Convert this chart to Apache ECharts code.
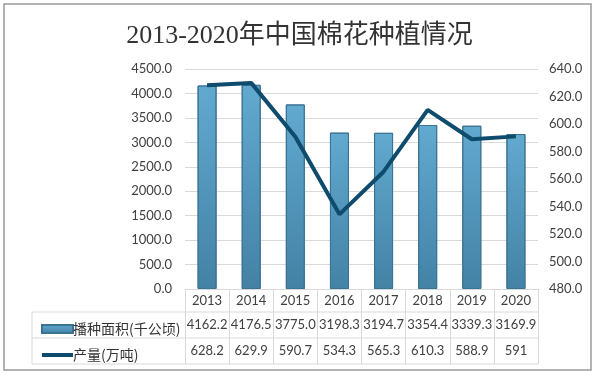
<!DOCTYPE html>
<html>
<head>
<meta charset="utf-8">
<script src="https://cdn.jsdelivr.net/npm/echarts@6/dist/echarts.min.js"></script>
<style>
  html, body { margin: 0; padding: 0; background: #fff; }
  #graph { width: 599px; height: 376px; }
</style>
</head>
<body>
<div id="graph"></div>
<script>
var years = ['2013', '2014', '2015', '2016', '2017', '2018', '2019', '2020'];
var area = [4162.2, 4176.5, 3775.0, 3198.3, 3194.7, 3354.4, 3339.3, 3169.9];
var output = [628.2, 629.9, 590.7, 534.3, 565.3, 610.3, 588.9, 591];
var areaName = '播种面积(千公顷)';
var outputName = '产量(万吨)';

var numFont = 'Lato, "Noto Sans CJK SC", sans-serif';
var gridColor = '#d9d9d9';

var option = {
    title: {
        text: '2013-2020年中国棉花种植情况',
        left: 'center',
        top: 18,
        textStyle: {
            fontFamily: '"Liberation Serif", "Noto Sans CJK SC", serif',
            fontSize: 26,
            fontWeight: 'normal',
            color: '#333'
        }
    },
    legend: {
        orient: 'vertical',
        left: 36,
        top: 317,
        itemWidth: 31,
        itemHeight: 8,
        itemGap: 12,
        data: [
            {name: areaName, icon: 'rect'},
            {name: outputName, icon: 'path://M0,0L31,0L31,4L0,4Z'}
        ],
        textStyle: {
            fontFamily: '"Noto Sans CJK SC", sans-serif',
            fontSize: 14,
            color: '#333',
            padding: [0, 0, 0, -5]
        }
    },
    grid: {left: 185, right: 61, top: 69, bottom: 87},
    xAxis: {
        type: 'category',
        data: years,
        axisLine: {lineStyle: {color: gridColor}},
        axisTick: {show: true, length: 75, lineStyle: {color: gridColor}},
        axisLabel: {
            margin: 0,
            interval: 0,
            formatter: function(v, i) {
                return '{a|' + v + '}\n{b|' + area[i].toFixed(1) + '}\n{c|' + output[i] + '}';
            },
            rich: {
                a: {lineHeight: 23, fontSize: 13, fontFamily: numFont, color: '#404040'},
                b: {lineHeight: 26, fontSize: 13, fontFamily: numFont, color: '#404040'},
                c: {lineHeight: 26, fontSize: 13, fontFamily: numFont, color: '#404040'}
            }
        }
    },
    yAxis: [{
        type: 'value',
        min: 0,
        max: 4500,
        interval: 500,
        axisLine: {show: false},
        axisTick: {show: false},
        axisLabel: {
            margin: 13,
            fontFamily: numFont,
            fontSize: 13,
            color: '#404040',
            formatter: function(v) { return v.toFixed(1); }
        },
        splitLine: {lineStyle: {color: gridColor}}
    }, {
        type: 'value',
        min: 480,
        max: 640,
        interval: 20,
        axisLine: {show: false},
        axisTick: {show: false},
        axisLabel: {
            margin: 11,
            fontFamily: numFont,
            fontSize: 13,
            color: '#404040',
            formatter: function(v) { return v.toFixed(1); }
        },
        splitLine: {show: false}
    }],
    series: [{
        name: areaName,
        type: 'bar',
        data: area,
        barWidth: 19,
        itemStyle: {
            color: new echarts.graphic.LinearGradient(0, 0, 0, 1, [
                {offset: 0, color: '#62a9d0'},
                {offset: 1, color: '#4382a5'}
            ]),
            borderColor: '#3b7394',
            borderWidth: 1
        }
    }, {
        name: outputName,
        type: 'line',
        yAxisIndex: 1,
        data: output,
        symbol: 'none',
        lineStyle: {color: '#0e4b6c', width: 4},
        itemStyle: {color: '#0e4b6c'}
    }],
    graphic: [
        {type: 'rect', shape: {x: 4, y: 4, width: 587, height: 366}, style: {fill: 'none', stroke: '#9a9a9a', lineWidth: 1.5}, silent: true},
        {type: 'line', shape: {x1: 32, y1: 312, x2: 538, y2: 312}, style: {stroke: gridColor, lineWidth: 1}},
        {type: 'line', shape: {x1: 32, y1: 338, x2: 538, y2: 338}, style: {stroke: gridColor, lineWidth: 1}},
        {type: 'line', shape: {x1: 32, y1: 364, x2: 538, y2: 364}, style: {stroke: gridColor, lineWidth: 1}},
        {type: 'line', shape: {x1: 32, y1: 312, x2: 32, y2: 364}, style: {stroke: gridColor, lineWidth: 1}}
    ]
};

var chart = echarts.init(document.getElementById('graph'));
chart.setOption(option);
</script>
</body>
</html>
